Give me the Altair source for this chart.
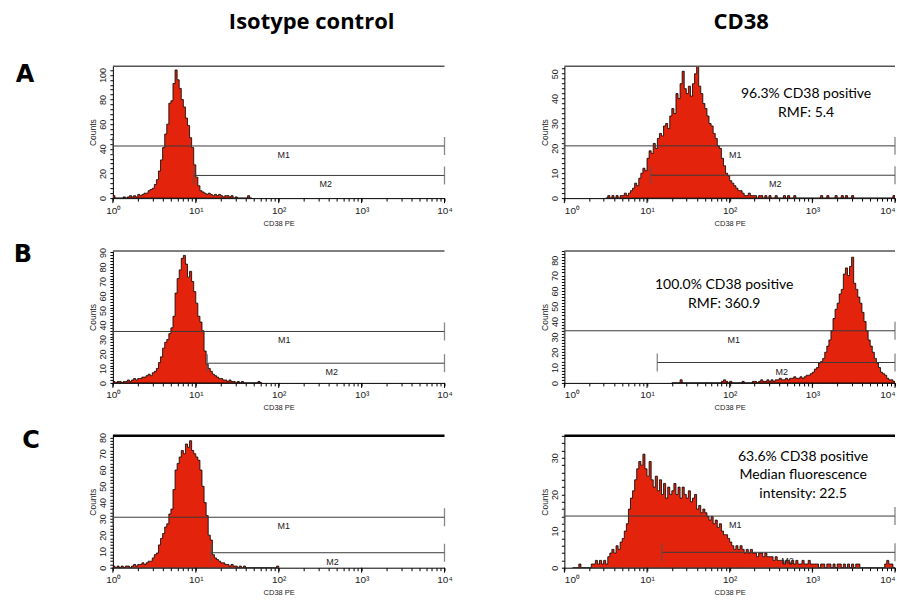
import altair as alt
import pandas as pd

# ---------------- data ----------------
STEP = 0.025  # histogram bin width in log10 units

# Row A
a_iso_start = 0.0
a_iso_counts = [2,0,0,0,0,1,0,1,2,1, 2,1,3,2,3,4,4,6,7,8,
                11,15,22,31,41,52,60,77,79,93, 104,96,89,80,74,65,59,49,41,27,
                17,10,6,5,4,3,4,3,2,3, 2,3,2,1,2,2,1,2,0,1,
                0,0,0,0,0,2,0]
a_cd_start = 0.5
a_cd_counts = [0,1,0,1,0,1,0,1,1,2, 1,2,3,4,6,5,8,10,12,11,
               16,19,18,22,20,24,26,25,29,30, 28,33,36,34,42,40,46,51,44,42,
               45,41,46,50,53,45,42,38,36,33, 30,29,26,24,21,20,16,13,10,9,
               7,6,5,4,3,3,2,1,1,2, 1,1,1,0,1,1,0,1,0,1,
               0,0,1,0,0,0,1,0,1,0, 0,1,0,0,0,0,0,0,0,0,
               0,0,0,0,1,0,0,1,0,0, 0,1,0,0,1,0,1,0,0,1,
               0,0,0,0,0,0,0,0,0,0, 0,0,0,0,0,0,0,0,0,1]

# Row B
b_iso_start = 0.0
b_iso_counts = [1,0,1,1,0,1,1,2,1,2, 3,2,3,3,4,4,5,6,5,7,
                8,10,14,18,24,28,30,34,38,46, 62,72,78,86,88,82,73,77,70,63,
                55,46,42,36,22,13,10,8,6,5, 4,3,3,2,2,1,2,1,1,0,
                1,0,1,0,0,0,0,0,0,0, 1,0]
b_cd_start = 1.3
b_cd_counts = [0,0,0,0,2,0,0,0,0,0, 0,0,0,0,0,0,0,0,0,0,
               0,0,0,0,1,2,1,0,1,0, 0,0,0,0,1,0,0,0,0,1,
               1,0,1,2,1,1,2,1,2,1, 2,2,3,2,2,3,2,3,3,4,
               3,3,4,3,4,5,5,6,7,9, 10,13,14,16,20,24,28,34,42,48,
               52,58,61,71,75,70,76,82,65,61, 56,52,46,40,34,28,24,20,16,13,
               10,7,6,5,3,2,2,1]

# Row C
c_iso_start = 0.0
c_iso_counts = [1,0,1,0,1,0,1,1,0,1, 2,1,2,2,3,2,3,4,4,6,
                8,9,14,18,21,25,27,33,36,48, 60,64,68,72,70,76,74,78,72,70,
                68,66,60,50,40,32,20,17,8,6, 5,4,3,3,2,2,1,2,1,1,
                0,1,0,1,0,0,0,0,0,0, 0,0,0,0,0,0,0,0,0,1]
c_cd_start = 0.1
c_cd_counts = [0,0,0,1,0,0,0,0,0,1, 1,2,1,2,1,2,1,3,4,5,
               4,6,5,7,8,10,12,16,19,21, 24,27,29,28,31,27,25,29,24,22,
               25,21,24,20,23,19,22,20,21,23, 20,22,19,22,20,19,21,18,19,20,
               16,17,15,16,15,14,13,14,12,13, 11,12,10,9,9,8,7,6,5,6,
               5,6,5,4,5,4,5,4,4,3, 4,4,3,4,3,3,3,2,3,2,
               2,2,1,2,2,1,2,1,2,1, 1,2,1,1,2,1,1,1,1,0,
               1,1,0,1,1,0,1,0,1,1, 0,1,0,1,0,1,0,1,1,0,
               0,0,0,0,0,0,0,0,0,0, 0,1,2,1,1,0]

# y-axis maxima, label step, minor tick step
y_max = {"a_iso": 107, "a_cd": 53, "b_iso": 91, "b_cd": 86, "c_iso": 81, "c_cd": 36}
y_label_step = {"a_iso": 20, "a_cd": 10, "b_iso": 10, "b_cd": 10, "c_iso": 10, "c_cd": 10}
y_minor_step = {"a_iso": 4, "a_cd": 2, "b_iso": 2, "b_cd": 2, "c_iso": 2, "c_cd": 2}

# marker gates M1 / M2
gate_names = ["M1", "M2"]
gates = {
    "a_iso": {"lo": [1, 9.5], "hi": [10000, 10000], "y": [42.3, 18.4], "label_x": [115, 370]},
    "a_cd":  {"lo": [1, 11.0], "hi": [10000, 10000], "y": [21.0, 9.2], "label_x": [117, 355]},
    "b_iso": {"lo": [1, 13.8], "hi": [10000, 10000], "y": [35.5, 13.6], "label_x": [117, 437]},
    "b_cd":  {"lo": [1, 13.3], "hi": [10000, 10000], "y": [34.0, 13.3], "label_x": [112, 427]},
    "c_iso": {"lo": [1, 15.1], "hi": [10000, 10000], "y": [31.0, 9.2], "label_x": [115, 447]},
    "c_cd":  {"lo": [1, 15.1], "hi": [10000, 10000], "y": [14.1, 4.2], "label_x": [117, 500]},
}

x_tick_values = [m * 10 ** k for k in range(4) for m in range(1, 10)] + [10000]
x_major_values = [1, 10, 100, 1000, 10000]
x_tick_labels = ["10⁰", "10¹", "10²", "10³", "10⁴"]

annot_a = ["96.3% CD38 positive", "RMF: 5.4"]
annot_b = ["100.0% CD38 positive", "RMF: 360.9"]
annot_c = ["63.6% CD38 positive", "Median fluorescence", "intensity: 22.5"]
col_titles = ["Isotype control", "CD38"]
row_letters = ["A", "B", "C"]

# ---------------- styling ----------------
RED = "#e3230b"
W_L, W_R, H = 332, 331, 132
SMALL_FONT = "Liberation Sans Narrow, Liberation Sans, sans-serif"
TEXT_FONT = "Lato, Open Sans, sans-serif"
TITLE_FONT = "Open Sans, Lato, sans-serif"
LETTER_FONT = "DejaVu Sans, Liberation Sans, sans-serif"
ONE = pd.DataFrame({"k": [0]})

label_expr = " : ".join(
    f"datum.value == {v} ? '{t}'" for v, t in zip(x_major_values, x_tick_labels)
) + " : ''"


def make_panel(key, start, counts, width, top_color, top_width, extras, flush=False):
    n = len(counts)
    xs = [10 ** (start + i * STEP) for i in range(n + 1)]
    ys = list(counts) + [0]
    hist = pd.DataFrame({"x": xs, "count": ys})
    ymax = y_max[key]
    xscale = alt.Scale(type="log", domain=[1, 10000], nice=False)
    yscale = alt.Scale(domain=[0, ymax], nice=False, zero=False)
    xaxis = alt.Axis(
        values=x_tick_values, labelExpr=label_expr, title="CD38 PE", tickSize=3,
        labelFontSize=10, labelFont=SMALL_FONT, labelPadding=4, labelFlush=flush,
        titleFontSize=7.5, titleFont=SMALL_FONT, titleFontWeight="normal", titlePadding=4,
        grid=False, domainColor="black", tickColor="black", labelColor="#222", titleColor="#222",
    )
    yaxis = alt.Axis(
        values=list(range(0, ymax + 1, y_minor_step[key])),
        labelExpr=f"datum.value % {y_label_step[key]} == 0 ? datum.label : ''",
        title="Counts", labelAngle=270, tickSize=3,
        labelFontSize=9, labelFont=SMALL_FONT, labelPadding=2,
        titleFontSize=8.5, titleFont=SMALL_FONT, titleFontWeight="normal", titlePadding=1,
        grid=False, domainColor="black", tickColor="black", labelColor="#222", titleColor="#222",
    )

    def X(f):
        return alt.X(f, scale=xscale, axis=xaxis)

    def Y(f):
        return alt.Y(f, scale=yscale, axis=yaxis)

    area = alt.Chart(hist).mark_area(
        interpolate="step-after", fill=RED, stroke="black", strokeWidth=0.8, clip=True
    ).encode(x=X("x:Q"), y=Y("count:Q"))
    major = alt.Chart(pd.DataFrame({"v": x_major_values})).mark_rule(
        color="black", strokeWidth=1
    ).encode(x=X("v:Q"), y=alt.value(H), y2=alt.value(H + 5))
    g = gates[key]
    gdf = pd.DataFrame({"name": gate_names, "lo": g["lo"], "hi": g["hi"], "y": g["y"], "label_x": g["label_x"]})
    rules = alt.Chart(gdf).mark_rule(color="#3a3a3a", strokeWidth=1).encode(
        x=X("lo:Q"), x2="hi:Q", y=Y("y:Q")
    )
    ends = alt.Chart(gdf).transform_fold(["lo", "hi"], as_=["end", "pos"]).mark_tick(
        orient="vertical", size=18, thickness=1.3, color="#555"
    ).encode(x=X("pos:Q"), y=Y("y:Q"))
    labels = alt.Chart(gdf).mark_text(
        dy=9, fontSize=9, font=SMALL_FONT, color="#222", baseline="middle"
    ).encode(x=X("label_x:Q"), y=Y("y:Q"), text="name:N")
    top = alt.Chart(ONE).mark_rule(color=top_color, strokeWidth=top_width).encode(
        x=alt.value(0), x2=alt.value(width), y=alt.value(0)
    )
    return alt.layer(area, major, rules, ends, labels, top, *extras).properties(width=width, height=H)


def text_layer(txt, x, y, size, weight="normal", font=TEXT_FONT, line_height=19):
    return alt.Chart(pd.DataFrame({"t": [txt]})).mark_text(
        font=font, fontSize=size, fontWeight=weight, align="center", baseline="alphabetic",
        lineBreak="\n", lineHeight=line_height, color="black",
    ).encode(x=alt.value(x), y=alt.value(y), text="t:N")


anchor = alt.Chart(ONE).mark_rule(strokeOpacity=0, strokeWidth=1).encode(
    x=alt.value(-112.5), y=alt.value(-65.5), y2=alt.value(-50)
)

pa_l = make_panel("a_iso", a_iso_start, a_iso_counts, W_L, "#555", 1.5, [
    anchor,
    text_layer(row_letters[0], -88, 16, 24, "bold", LETTER_FONT),
    text_layer(col_titles[0], 199, -37, 22, "bold", TITLE_FONT),
])
pa_r = make_panel("a_cd", a_cd_start, a_cd_counts, W_R, "#555", 1.5, [
    text_layer(col_titles[1], 177, -37, 22, "bold", TITLE_FONT),
    text_layer("\n".join(annot_a), 242, 32, 14),
], flush=True)
pb_l = make_panel("b_iso", b_iso_start, b_iso_counts, W_L, "#555", 1.5, [
    text_layer(row_letters[1], -90, 11, 24, "bold", LETTER_FONT),
])
pb_r = make_panel("b_cd", b_cd_start, b_cd_counts, W_R, "#555", 1.5, [
    text_layer("\n".join(annot_b), 160, 38, 14),
], flush=True)
pc_l = make_panel("c_iso", c_iso_start, c_iso_counts, W_L, "black", 2.5, [
    text_layer(row_letters[2], -82, 12, 24, "bold", LETTER_FONT),
])
pc_r = make_panel("c_cd", c_cd_start, c_cd_counts, W_R, "black", 2.5, [
    text_layer("\n".join(annot_c), 239, 25, 14, line_height=18.5),
], flush=True)

chart = alt.concat(
    pa_l, pa_r, pb_l, pb_r, pc_l, pc_r,
    columns=2, spacing={"row": 53, "column": 120}, bounds="flush",
).configure_view(stroke=None).properties(
    padding=0, background="white", autosize=alt.AutoSizeParams(type="pad")
)

chart.save("out.html", embed_options={"renderer": "svg", "actions": False})
